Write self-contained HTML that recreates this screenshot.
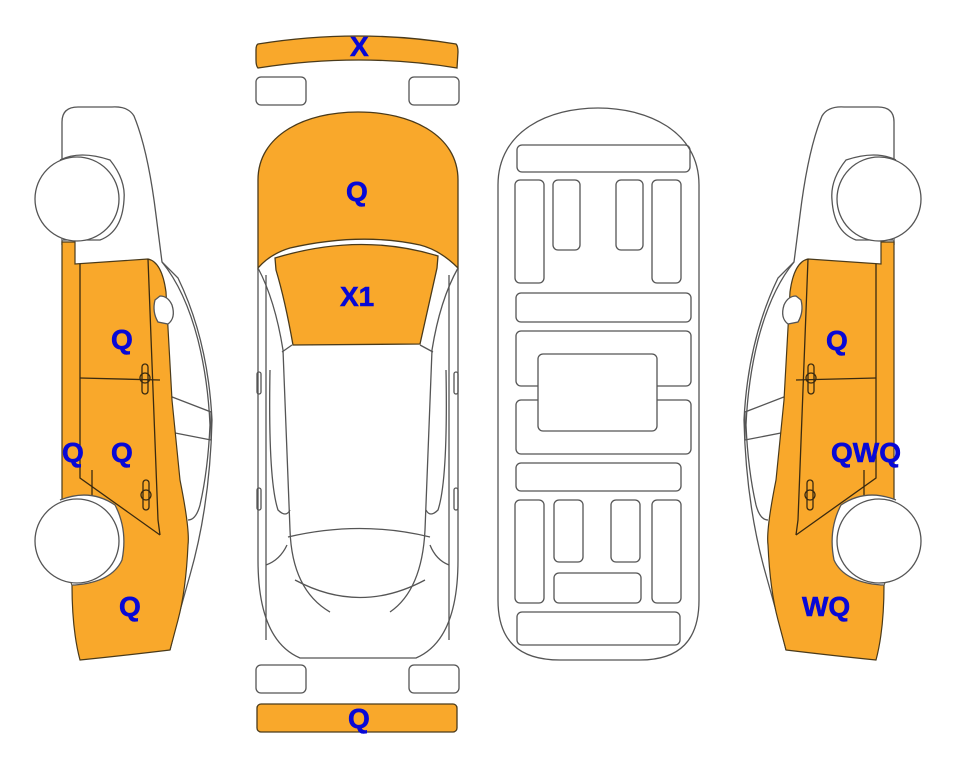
<!DOCTYPE html>
<html><head><meta charset="utf-8"><style>
html,body{margin:0;padding:0;background:#fff;width:963px;height:768px;overflow:hidden}
svg{display:block}
text{font-family:"Liberation Sans",Arial,sans-serif;font-weight:bold;font-size:28px;fill:#0808d6;stroke:#0808d6;stroke-width:0.6}
</style></head><body>
<svg width="963" height="768" viewBox="0 0 963 768" xmlns="http://www.w3.org/2000/svg">
<defs>
<g id="side" fill="none" stroke="#555" stroke-width="1.3">
  <path d="M62,245 L62,122 Q62,107 78,107 L112,107 Q128,106 134,116 Q148,150 156,215 L162,262 Q168,268 178,278 Q208,340 212,420 Q210,505 190,575 L176,625 L170,650" fill="#fff"/>
  <path d="M162,262 Q185,290 198,340 Q208,380 210,425 Q208,470 200,505 Q196,520 188,520" />
  <path d="M167,395 L211,412 L211,440 L170,432"/>
  <path d="M62,242 L75,242 L75,264 L148,259 Q162,262 166,292 L172,400 L180,480 Q190,530 188,545 Q186,590 178,620 L170,650 Q120,656 80,660 Q72,630 72,585 L62,560 Z" fill="#f9a82b" stroke="#4a3a1a" stroke-width="1.2"/>
  <path d="M155,300 Q152,312 158,322 L168,324 Q176,318 172,305 Q168,296 160,296 Z" fill="#fff"/>
  <path d="M80,264 L80,478 L160,535" stroke="#3a2a10"/>
  <path d="M80,378 L160,380" stroke="#3a2a10"/>
  <path d="M92,470 L92,498" stroke="#3a2a10"/>
  <path d="M148,259 L158,520 L160,535" stroke="#3a2a10"/>
  <rect x="142" y="364" width="6" height="30" rx="3" stroke="#3a2a10"/>
  <circle cx="145" cy="378" r="5" stroke="#3a2a10"/>
  <rect x="143" y="480" width="6" height="30" rx="3" stroke="#3a2a10"/>
  <circle cx="146" cy="495" r="5" stroke="#3a2a10"/>
  <path d="M60,160 Q80,150 110,160 Q126,180 124,200 Q122,232 100,240 L62,240" fill="#fff"/>
  <circle cx="77" cy="199" r="42" fill="#fff"/>
  <path d="M60,500 Q90,488 115,505 Q128,530 122,560 Q112,582 75,585 L72,585" fill="#fff"/>
  <circle cx="77" cy="541" r="42" fill="#fff"/>
</g>
</defs>

<use href="#side"/>
<use href="#side" transform="translate(956,0) scale(-1,1)"/>

<g fill="none" stroke="#555" stroke-width="1.3">
  <path d="M258,44 Q358,28 456,44 Q458,46 458,52 L457,68 Q360,52 258,68 Q256,66 256,60 L256,50 Q256,45 258,44 Z" fill="#f9a82b" stroke="#4a3a1a"/>
  <rect x="256" y="77" width="50" height="28" rx="5"/>
  <rect x="409" y="77" width="50" height="28" rx="5"/>
  <path d="M258,268 L258,560 Q258,640 300,658 L416,658 Q458,640 458,560 L458,268" fill="#fff"/>
  <path d="M258,268 L258,180 C258,135 305,112 358,112 C411,112 458,135 458,180 L458,268 Q440,250 420,245 Q360,232 290,248 Q270,254 258,268 Z" fill="#f9a82b" stroke="#4a3a1a"/>
  <path d="M275,258 Q360,232 438,256 L437,268 Q430,300 420,344 L293,345 Q285,300 276,270 Z" fill="#f9a82b" stroke="#4a3a1a"/>
  <path d="M258,268 Q275,300 283,350 L290,530 Q292,590 330,612 M458,268 Q440,300 432,350 L425,530 Q422,590 390,612"/>
  <path d="M266,275 L266,640 M449,275 L449,640"/>
  <path d="M282,352 L292,345 M433,352 L420,345"/>
  <path d="M270,370 Q268,480 278,510 Q286,518 290,510 M446,370 Q448,480 438,510 Q430,518 426,510"/>
  <path d="M288,537 Q360,520 430,537"/>
  <path d="M287,545 Q280,560 266,565 M430,545 Q436,560 449,565"/>
  <path d="M295,580 Q360,615 425,580"/>
  <rect x="257" y="372" width="4" height="22" rx="2"/>
  <rect x="454" y="372" width="4" height="22" rx="2"/>
  <rect x="257" y="488" width="4" height="22" rx="2"/>
  <rect x="454" y="488" width="4" height="22" rx="2"/>
  <rect x="256" y="665" width="50" height="28" rx="5"/>
  <rect x="409" y="665" width="50" height="28" rx="5"/>
  <rect x="257" y="704" width="200" height="28" rx="4" fill="#f9a82b" stroke="#4a3a1a"/>
</g>

<g fill="none" stroke="#555" stroke-width="1.3">
  <path d="M498,185 C498,130 550,108 598,108 C646,108 699,130 699,185 L699,600 C699,640 680,660 640,660 L560,660 C518,660 498,640 498,600 Z"/>
  <rect x="517" y="145" width="173" height="27" rx="5"/>
  <rect x="515" y="180" width="29" height="103" rx="5"/>
  <rect x="553" y="180" width="27" height="70" rx="5"/>
  <rect x="616" y="180" width="27" height="70" rx="5"/>
  <rect x="652" y="180" width="29" height="103" rx="5"/>
  <rect x="516" y="293" width="175" height="29" rx="5"/>
  <rect x="516" y="331" width="175" height="55" rx="5"/>
  <rect x="516" y="400" width="175" height="54" rx="5"/>
  <rect x="538" y="354" width="119" height="77" rx="5" fill="#fff"/>
  <rect x="516" y="463" width="165" height="28" rx="5"/>
  <rect x="515" y="500" width="29" height="103" rx="5"/>
  <rect x="554" y="500" width="29" height="62" rx="5"/>
  <rect x="611" y="500" width="29" height="62" rx="5"/>
  <rect x="652" y="500" width="29" height="103" rx="5"/>
  <rect x="554" y="573" width="87" height="30" rx="5"/>
  <rect x="517" y="612" width="163" height="33" rx="5"/>
</g>

<text x="350" y="56">X</text>
<text x="346" y="201">Q</text>
<text x="340" y="306">X1</text>
<text x="348" y="728">Q</text>
<text x="111" y="349">Q</text>
<text x="62" y="462">Q</text>
<text x="111" y="462">Q</text>
<text x="119" y="616">Q</text>
<text x="826" y="350">Q</text>
<text x="831" y="462">QWQ</text>
<text x="802" y="616">WQ</text>
</svg>
</body></html>
